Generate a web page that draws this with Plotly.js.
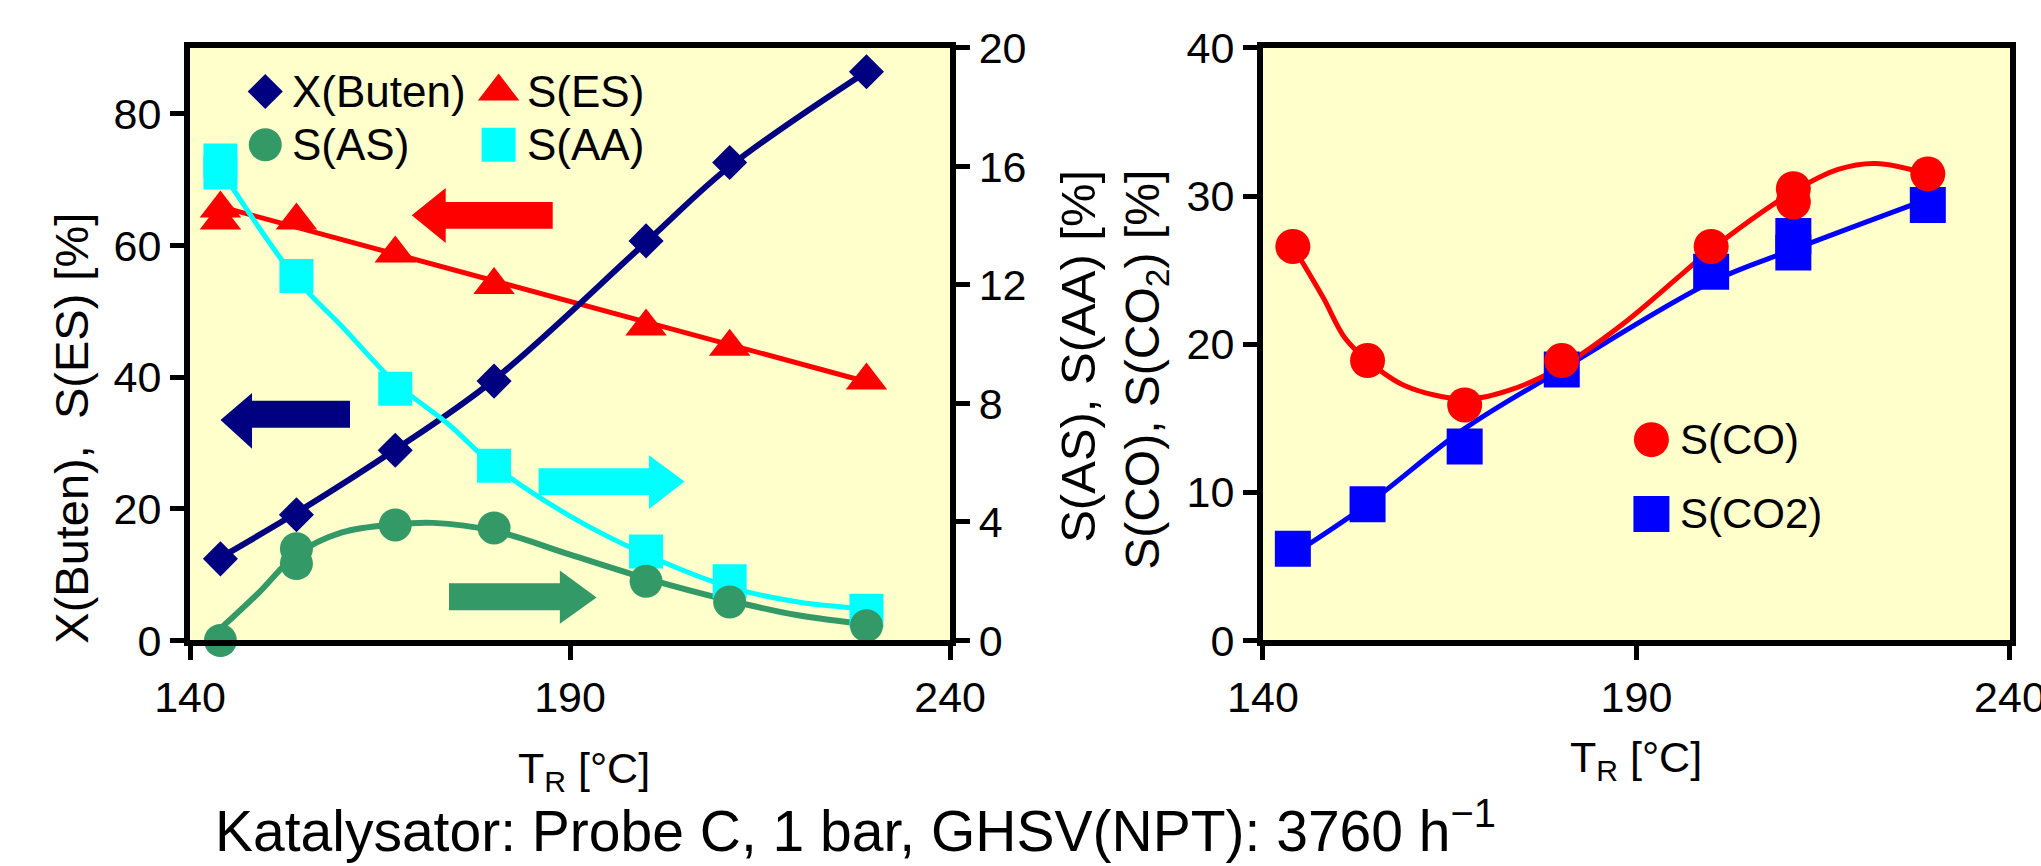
<!DOCTYPE html>
<html>
<head>
<meta charset="utf-8">
<script src="https://cdn.plot.ly/plotly-3.0.1.min.js"></script>
<style>
html,body{margin:0;padding:0;background:#fff;}
#chart{width:2041px;height:866px;}
</style>
</head>
<body>
<div id="chart"></div>
<script>
// ---------- data ----------
// measured points (left panel)
const tButen = [144, 154, 167, 180, 200, 211, 229];
const xButen = [12.4, 19.1, 28.9, 39.4, 60.7, 72.6, 86.4];
const tES = [144, 144, 154, 167, 180, 200, 211, 229];
const sES = [65.6, 63.8, 63.8, 58.8, 54.0, 47.7, 44.6, 39.5];
const tAS = [144, 154, 154, 167, 180, 200, 211, 229];
const sAS = [0.0, 3.1, 2.6, 3.9, 3.8, 2.0, 1.3, 0.5];
const tAA = [144, 144, 154, 167, 180, 200, 211, 229];
const sAA = [16.2, 15.8, 12.3, 8.5, 5.9, 3.0, 2.0, 1.0];
// measured points (right panel)
const tCO = [144, 154, 167, 180, 200, 211, 211, 229];
const sCO = [26.6, 18.9, 15.9, 18.9, 26.6, 30.5, 29.6, 31.5];
const tCO2 = [144, 154, 167, 180, 200, 211, 211, 229];
const sCO2 = [6.2, 9.2, 13.1, 18.3, 24.9, 27.3, 26.2, 29.4];
// trend curves
const fitButenT = [144, 154, 167, 180, 200, 211, 229];
const fitButen = [12.6, 19.4, 29.0, 39.6, 60.5, 72.0, 86.4];
const fitEST = [144, 229];
const fitES = [65.9, 39.3];
const fitAST = [144, 149, 154, 160, 167, 172, 180, 190, 200, 211, 220, 229];
const fitAS = [0.4, 1.6, 2.9, 3.65, 3.92, 3.97, 3.7, 2.9, 2.1, 1.35, 0.85, 0.55];
const fitAAT = [144, 154, 160, 167, 174, 180, 190, 200, 211, 220, 229];
const fitAA = [15.9, 12.2, 10.6, 8.7, 7.3, 5.9, 4.2, 2.9, 1.8, 1.3, 1.07];
const fitCOT = [144, 148, 151, 154, 159, 167, 173, 180, 188, 196, 200, 211, 217, 222, 229];
const fitCO = [26.6, 23.2, 20.4, 18.9, 17.2, 16.3, 16.9, 18.5, 21.3, 24.7, 26.4, 30.3, 31.8, 32.2, 31.5];
const fitCO2T = [144, 154, 167, 180, 200, 211, 229];
const fitCO2 = [5.8, 9.2, 14.3, 18.3, 24.2, 26.4, 29.8];
// labels
const seriesNames = ['X(Buten)', 'S(ES)', 'S(AS)', 'S(AA)', 'S(CO)', 'S(CO2)'];
const xTicks = [140, 190, 240];
const yTicksL = [0, 20, 40, 60, 80];
const yTicksR = [0, 4, 8, 12, 16, 20];
const yTicksCO = [0, 10, 20, 30, 40];
const titleText = 'Katalysator: Probe C, 1 bar, GHSV(NPT): 3760 h<sup>\u22121</sup>';

// ---------- styles ----------
const FONT = 'Liberation Sans, Arial, sans-serif';
const NAVY = '#000080', RED = '#FF0000', GREEN = '#339966', CYAN = '#00FFFF', BLUE = '#0000FF';
const LW = 5;

function fit(x, y, color, xa, ya, w) {
  return {x: x, y: y, xaxis: xa, yaxis: ya, type: 'scatter', mode: 'lines',
    line: {color: color, width: w || LW, shape: 'spline', smoothing: 1},
    hoverinfo: 'skip', showlegend: false};
}
function pts(name, x, y, color, symbol, size, xa, ya) {
  return {name: name, x: x, y: y, xaxis: xa, yaxis: ya, type: 'scatter', mode: 'markers',
    marker: {color: color, symbol: symbol, size: size, opacity: 1, line: {width: 0}},
    cliponaxis: false, showlegend: false};
}

const traces = [
  fit(fitAAT, fitAA, CYAN, 'x', 'y2'),
  fit(fitAST, fitAS, GREEN, 'x', 'y2', 6),
  fit(fitEST, fitES, RED, 'x', 'y'),
  fit(fitButenT, fitButen, NAVY, 'x', 'y', 6),
  pts(seriesNames[3], tAA, sAA, CYAN, 'square', 34, 'x', 'y2'),
  pts(seriesNames[2], tAS, sAS, GREEN, 'circle', 33, 'x', 'y2'),
  pts(seriesNames[1], tES, sES, RED, 'triangle-up', 36, 'x', 'y'),
  pts(seriesNames[0], tButen, xButen, NAVY, 'diamond', 27, 'x', 'y'),
  fit(fitCO2T, fitCO2, BLUE, 'x2', 'y3'),
  fit(fitCOT, fitCO, RED, 'x2', 'y3'),
  pts(seriesNames[5], tCO2, sCO2, BLUE, 'square', 36, 'x2', 'y3'),
  pts(seriesNames[4], tCO, sCO, RED, 'circle', 35, 'x2', 'y3'),
  // legend keys (drawn in the plot areas like the original inset legends)
  {x: [149.9, 149.9, 180.6, 180.6], y: [83.4, 75.3, 83.4, 75.3], xaxis: 'x', yaxis: 'y',
   type: 'scatter', mode: 'markers', hoverinfo: 'skip', showlegend: false, cliponaxis: false,
   marker: {symbol: ['diamond', 'circle', 'triangle-up', 'square'], size: [27, 33, 36, 34], opacity: 1,
            color: [NAVY, GREEN, RED, CYAN], line: {width: 0}}},
  {x: [192.0, 192.0], y: [13.56, 8.54], xaxis: 'x2', yaxis: 'y3',
   type: 'scatter', mode: 'markers', hoverinfo: 'skip', showlegend: false, cliponaxis: false,
   marker: {symbol: ['circle', 'square'], size: [35, 36], opacity: 1, color: [RED, BLUE], line: {width: 0}}}
];

const axisCommon = {
  showline: true, linecolor: '#000', linewidth: 6,
  ticks: 'outside', ticklen: 14, tickwidth: 5, tickcolor: '#000',
  showgrid: false, zeroline: false, fixedrange: true, ticklabeloverflow: 'allow',
  tickfont: {family: FONT, size: 43, color: '#000'}
};
const yDom = [0.2604, 0.9446];

const layout = {
  width: 2041, height: 866,
  margin: {l: 0, r: 0, t: 0, b: 0},
  paper_bgcolor: '#FFFFFF', plot_bgcolor: '#FFFFCC',
  showlegend: false,
  font: {family: FONT, color: '#000'},
  xaxis: Object.assign({}, axisCommon, {domain: [0.0931, 0.4655], range: [140, 240],
    tickmode: 'array', tickvals: xTicks, mirror: true, anchor: 'y'}),
  yaxis: Object.assign({}, axisCommon, {domain: yDom, range: [0, 90],
    tickmode: 'array', tickvals: yTicksL, anchor: 'x'}),
  yaxis2: Object.assign({}, axisCommon, {range: [0, 20], overlaying: 'y', side: 'right',
    tickmode: 'array', tickvals: yTicksR, anchor: 'x'}),
  xaxis2: Object.assign({}, axisCommon, {domain: [0.6188, 0.9848], range: [140, 240],
    tickmode: 'array', tickvals: xTicks, mirror: true, anchor: 'y3'}),
  yaxis3: Object.assign({}, axisCommon, {domain: yDom, range: [0, 40],
    tickmode: 'array', tickvals: yTicksCO, mirror: true, anchor: 'x2'}),
  shapes: [
    {type: 'path', xref: 'x', yref: 'y', fillcolor: RED, line: {width: 0},
     path: 'M169.17,64.58 L173.64,68.75 L173.64,66.62 L187.72,66.62 L187.72,62.56 L173.64,62.56 L173.64,60.39 Z'},
    {type: 'path', xref: 'x', yref: 'y', fillcolor: NAVY, line: {width: 0},
     path: 'M144.01,33.49 L148.16,37.58 L148.16,36.41 L161.05,36.41 L161.05,32.32 L148.16,32.32 L148.16,29.14 Z'},
    {type: 'path', xref: 'x', yref: 'y', fillcolor: CYAN, line: {width: 0},
     path: 'M185.86,26.18 L200.38,26.18 L200.38,28.12 L205.07,24.14 L200.38,19.99 L200.38,22.09 L185.86,22.09 Z'},
    {type: 'path', xref: 'x', yref: 'y', fillcolor: GREEN, line: {width: 0},
     path: 'M174.07,8.70 L188.66,8.70 L188.66,10.64 L193.49,6.55 L188.66,2.55 L188.66,4.61 L174.07,4.61 Z'}
  ],
  annotations: [
    {text: titleText, xref: 'paper', yref: 'paper', x: 0.419, y: 0.045, xanchor: 'center', yanchor: 'middle',
     showarrow: false, font: {family: FONT, size: 57, color: '#000'}},
    {text: 'T<sub>R</sub> [°C]', xref: 'paper', yref: 'paper', x: 0.2860, y: 0.1095, xanchor: 'center', yanchor: 'middle',
     showarrow: false, font: {family: FONT, size: 43, color: '#000'}},
    {text: 'T<sub>R</sub> [°C]', xref: 'paper', yref: 'paper', x: 0.8016, y: 0.1224, xanchor: 'center', yanchor: 'middle',
     showarrow: false, font: {family: FONT, size: 43, color: '#000'}},
    {text: 'X(Buten),  S(ES) [%]', xref: 'paper', yref: 'paper', x: 0.0353, y: 0.505, xanchor: 'center', yanchor: 'middle',
     textangle: -90, showarrow: false, font: {family: FONT, size: 47, color: '#000'}},
    {text: 'S(AS), S(AA) [%]', xref: 'paper', yref: 'paper', x: 0.5282, y: 0.588, xanchor: 'center', yanchor: 'middle',
     textangle: -90, showarrow: false, font: {family: FONT, size: 49, color: '#000'}},
    {text: 'S(CO), S(CO<sub>2</sub>) [%]', xref: 'paper', yref: 'paper', x: 0.5615, y: 0.573, xanchor: 'center', yanchor: 'middle',
     textangle: -90, showarrow: false, font: {family: FONT, size: 48, color: '#000'}},
    {text: seriesNames[0], xref: 'x', yref: 'y', x: 153.2, y: 83.4, xanchor: 'left', yanchor: 'middle', showarrow: false,
     font: {family: FONT, size: 44, color: '#000'}},
    {text: seriesNames[2], xref: 'x', yref: 'y', x: 153.2, y: 75.3, xanchor: 'left', yanchor: 'middle', showarrow: false,
     font: {family: FONT, size: 44, color: '#000'}},
    {text: seriesNames[1], xref: 'x', yref: 'y', x: 184.1, y: 83.4, xanchor: 'left', yanchor: 'middle', showarrow: false,
     font: {family: FONT, size: 44, color: '#000'}},
    {text: seriesNames[3], xref: 'x', yref: 'y', x: 184.1, y: 75.3, xanchor: 'left', yanchor: 'middle', showarrow: false,
     font: {family: FONT, size: 44, color: '#000'}},
    {text: seriesNames[4], xref: 'x2', yref: 'y3', x: 195.5, y: 13.56, xanchor: 'left', yanchor: 'middle', showarrow: false,
     font: {family: FONT, size: 42, color: '#000'}},
    {text: seriesNames[5], xref: 'x2', yref: 'y3', x: 195.5, y: 8.54, xanchor: 'left', yanchor: 'middle', showarrow: false,
     font: {family: FONT, size: 42, color: '#000'}}
  ]
};

Plotly.newPlot('chart', traces, layout, {staticPlot: true, displayModeBar: false});
</script>
</body>
</html>
